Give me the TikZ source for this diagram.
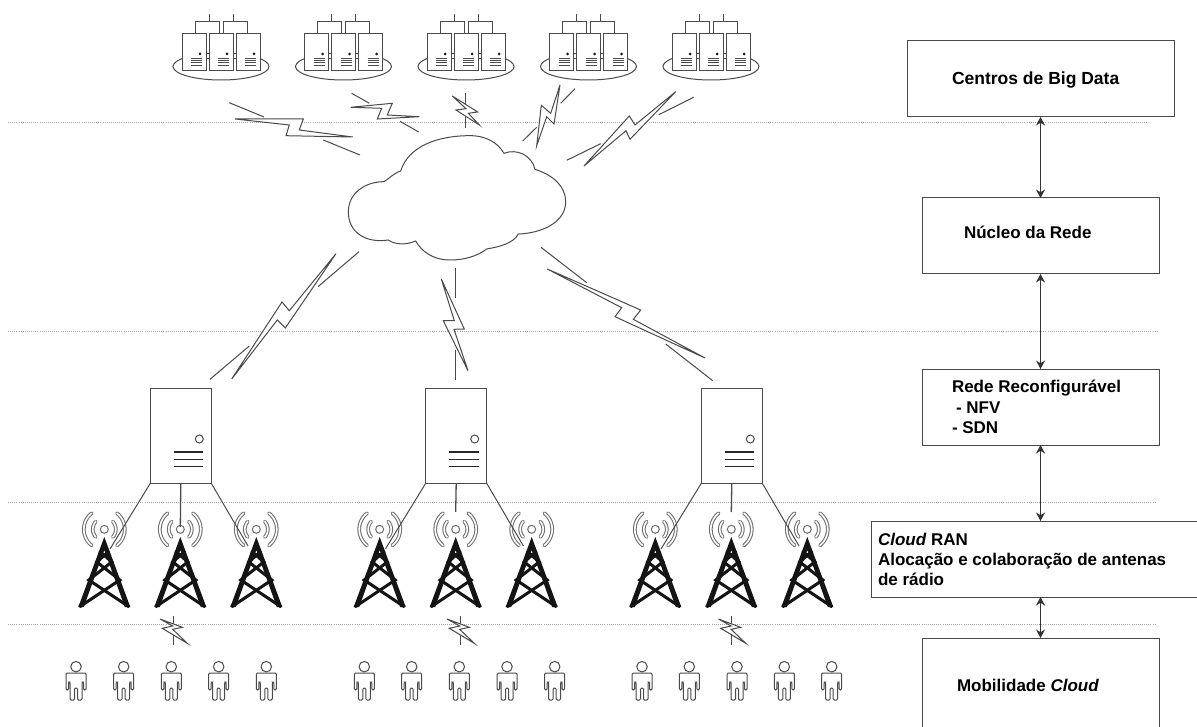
\documentclass[tikz,border=0pt]{standalone}
\usepackage{fontspec}
\setmainfont{Liberation Sans}
\usetikzlibrary{arrows.meta,shapes.geometric}
\definecolor{ln}{HTML}{4A4A4A}
\definecolor{dotc}{HTML}{A8A8A8}
\tikzset{
  x=1pt,y=-1pt,
  layerbox/.style={draw=ln,line width=1pt,fill=white,inner sep=0pt,outer sep=0pt},
  lbl/.style={anchor=base west,inner sep=0pt,outer sep=0pt,font=\fontsize{17}{20}\selectfont\bfseries},
  dual/.style={draw=black!80,line width=1pt,{Stealth[length=8.5pt,width=9pt]}-{Stealth[length=8.5pt,width=9pt]}},
  sepline/.style={draw=dotc,line width=.9pt,dash pattern=on 1pt off 1.1pt},
  thin line/.style={draw=ln,line width=1pt},
  boltshape/.style={draw=ln,line width=1pt,fill=white,line join=miter},
  sideline/.style={draw=ln,line width=1pt},
  rackbox/.style={draw=ln,line width=1pt,fill=white,inner sep=0pt,outer sep=0pt,minimum width=24pt,minimum height=37pt},
  rackdish/.style={ellipse,draw=ln,line width=1pt,fill=white,inner sep=0pt,minimum width=96pt,minimum height=27pt},
  bigsrv/.style={draw=ln,line width=1pt,fill=white,inner sep=0pt,outer sep=0pt,minimum width=61pt,minimum height=95pt},
  ant/.style={circle,draw=ln!80,line width=1pt,fill=white,inner sep=0pt,minimum size=8pt},
  head/.style={circle,draw=ln,line width=1pt,fill=white,inner sep=0pt,minimum size=10.5pt},
}
\newcommand{\wavearc}[5]{% cx cy r ang-centre half-span
  \draw[draw=ln!80,line width=3.7pt,line cap=round] plot[domain={#4-#5}:{#4+#5},samples=13] ({#1+#3*cos(\x)},{#2+#3*sin(\x)});
  \draw[draw=white,line width=1.6pt,line cap=round] plot[domain={#4-#5}:{#4+#5},samples=13] ({#1+#3*cos(\x)},{#2+#3*sin(\x)});
}
\begin{document}
\begin{tikzpicture}
\useasboundingbox (0,0) rectangle (1197,727);
\fill[white] (0,0) rectangle (1197,727);

% separators
\coordinate (s1a) at (8,122);   \coordinate (s1b) at (1147,122);
\coordinate (s2a) at (8,331);   \coordinate (s2b) at (1157,331);
\coordinate (s3a) at (8,502);   \coordinate (s3b) at (1155,502);
\coordinate (s4a) at (8,624);   \coordinate (s4b) at (1155,624);
\foreach \k in {1,2,3,4} \draw[sepline] (s\k a) -- (s\k b);

% right-hand layer boxes
\node[layerbox,minimum width=267pt,minimum height=76pt] (bigdata) at (1040.5,79) {};
\node[layerbox,minimum width=237pt,minimum height=76pt] (nucleo) at (1040.5,236) {};
\node[layerbox,minimum width=237pt,minimum height=76pt] (rede) at (1040.5,407) {};
\node[layerbox,minimum width=339pt,minimum height=76pt] (cran) at (1040.5,559) {};
\node[layerbox,minimum width=237pt,minimum height=102pt] (mob) at (1040.5,689) {};
\draw[dual] (bigdata) -- (nucleo);
\draw[dual] (nucleo) -- (rede);
\draw[dual] (rede) -- (cran);
\draw[dual] (cran) -- (mob);

\node[lbl,font=\fontsize{17.5}{20}\selectfont\bfseries] (t1) at (952,85) {Centros de Big Data};
\node[lbl] (t2) at (964,239) {Núcleo da Rede};
\node[lbl] (t3) at (952,392) {Rede Reconfigurável};
\node[lbl] (t4) at (956,413) {- NFV};
\node[lbl] (t5) at (952,433) {- SDN};
\node[lbl] (t6) at (878,545) {\textit{Cloud} RAN};
\node[lbl] (t7) at (878,565) {Alocação e colaboração de antenas};
\node[lbl] (t8) at (878,585) {de rádio};
\node[lbl] (t9) at (957,691) {Mobilidade \textit{Cloud}};

% top data-centre groups
\foreach \g/\ox in {a/0,b/122.5,c/245,d/367.5,e/490}{
  \begin{scope}[shift={(\ox,0)}]
    \node[rackdish] (dish\g) at (221,66.5) {};
    \node[rackbox] (\g1) at (194,52.5) {};
    \node[rackbox] (\g2) at (221,52.5) {};
    \node[rackbox] (\g3) at (248,52.5) {};
    \coordinate (\g p) at (209,14); \coordinate (\g q) at (233,14);
    \draw[thin line] (195,34) -- (195,22) -- (219,22) -- (219,34);
    \draw[thin line] (223,34) -- (223,22) -- (247,22) -- (247,34);
    \draw[thin line] (\g p) -- (209,22);
    \draw[thin line] (\g q) -- (233,22);
    \draw[thin line] (\g1.east |- 0,59) -- (\g2.west |- 0,59);
    \draw[thin line] (\g2.east |- 0,59) -- (\g3.west |- 0,59);
    \foreach \n/\dx in {1/0,2/27,3/54}{
      \fill[black!90] (200+\dx,54) circle (1.5pt);
      \foreach \yy in {58.3,60.6,62.9,65.2}
        \draw[draw=ln,line width=1pt] (191+\dx,\yy) -- (202+\dx,\yy);
    }
  \end{scope}
}

% cloud
\begin{scope}[shift={(330,130)},x=0.33333pt,y=-0.33333pt]
\draw[draw=ln,line width=1pt,fill=white] (162,155)
 .. controls (175,148) and (190,130) .. (212,123)
 .. controls (235,50) and (320,17) .. (420,17)
 .. controls (470,17) and (505,40) .. (522,70)
 .. controls (560,55) and (605,75) .. (615,118)
 .. controls (670,135) and (707,170) .. (707,215)
 .. controls (707,280) and (630,310) .. (565,312)
 .. controls (550,340) and (510,350) .. (470,357)
 .. controls (440,380) and (400,390) .. (360,390)
 .. controls (310,390) and (275,365) .. (257,333)
 .. controls (230,345) and (195,345) .. (175,330)
 .. controls (110,340) and (55,310) .. (55,245)
 .. controls (55,190) and (105,155) .. (162,155) -- cycle;
\end{scope}

% upper links
\draw[sideline] (229.3,102.7) -- (264,117);
\draw[sideline] (323.3,140) -- (360,155);
\draw[boltshape] (235,119) -- (303.3,119) -- (299.3,130) -- (352.7,137) -- (286,135.7) -- (289.3,125) -- cycle;

\draw[sideline] (351.7,93.3) -- (369.3,103.3);
\draw[sideline] (400,121.3) -- (418.7,132);
\draw[boltshape] (350.7,107.3) -- (392.3,103.3) -- (387.3,115) -- (419.3,116.7) -- (377.3,119) -- (381.7,108.3) -- cycle;

\draw[sideline] (465.7,93.3) -- (465.7,128.3);
\draw[boltshape] (452.3,96) -- (477.7,112) -- (468.3,113.3) -- (479.3,125) -- (456,110) -- (466,108.7) -- cycle;

\draw[sideline] (575,88.7) -- (560.7,103.3);
\draw[sideline] (536.7,127.3) -- (522.7,141);
\draw[boltshape] (560,85) -- (554,124) -- (546.7,116.7) -- (536.7,145.7) -- (541.3,105.3) -- (550.7,113.3) -- cycle;

\draw[sideline] (693.7,97.3) -- (658.7,114.7);
\draw[sideline] (600.7,143.7) -- (566.7,160.3);
\draw[boltshape] (675.7,91.7) -- (635,125) -- (629.3,116) -- (584,166) -- (626,130.7) -- (630,139.3) -- cycle;

% lower links to servers
\draw[sideline] (359,251.7) -- (318,286.7);
\draw[sideline] (249.3,346) -- (210,379.3);
\draw[boltshape] (336,253.7) -- (289.3,310.7) -- (282,302) -- (231.7,379) -- (277.3,320) -- (285.3,328) -- cycle;

\draw[sideline] (455,268.3) -- (455,298.3);
\draw[sideline] (455,350) -- (455,380);
\draw[boltshape] (441.3,279) -- (454.3,320.7) -- (443.3,320.7) -- (468,370.7) -- (454,329.3) -- (464.3,329) -- cycle;

\draw[sideline] (541,247.3) -- (586.7,282.7);
\draw[sideline] (665.7,344) -- (712.7,380.7);
\draw[boltshape] (547.3,269) -- (640.7,310) -- (633.3,319.3) -- (705,358) -- (615,316.7) -- (621.7,307.7) -- cycle;

% access groups
\foreach \g/\ox/\mid in {A/0/527,B/275.4/512,C/551/512}{
  \begin{scope}[shift={(\ox,0)}]
    \node[bigsrv] (srv\g) at (180.8,435.8) {};
    \draw[draw=ln,line width=1pt] (199.3,439) circle (4pt);
    \foreach \yy in {452,459.3,466.7}
      \draw[draw=black!85,line width=1.4pt] (174,\yy) -- (203.3,\yy);
    \foreach \t/\cx in {1/104.3,2/180.3,3/256.3}{
      \wavearc{\cx}{529.3}{20.5}{0}{52}
      \wavearc{\cx}{529.3}{20.5}{180}{52}
      \wavearc{\cx}{529.3}{11.5}{0}{42}
      \wavearc{\cx}{529.3}{11.5}{180}{42}
      \node[ant] (ant\g\t) at (\cx,529.3) {};
      \begin{scope}[shift={(\cx,0)}]
        \fill[black!92] (0,537) -- (-26,607) -- (-20.5,607) -- (0,550) -- (20.5,607) -- (26,607) -- cycle;
        \begin{scope}
          \clip (-26,537) rectangle (26,607);
          \draw[black!92,line width=3pt] (-25,607) -- (15.5,580) -- (-7.5,562) -- (5,551);
          \draw[black!92,line width=3pt] (25,607) -- (-15.5,580) -- (7.5,562) -- (-5,551);
        \end{scope}
      \end{scope}
    }
    \coordinate (lf\g) at (110,549);
    \coordinate (rt\g) at (248,546);
    \coordinate (md\g) at (180.3,\mid);
    \draw[draw=ln,line width=1pt] (srv\g.south west) -- (lf\g);
    \draw[draw=ln,line width=1.3pt] (srv\g.south) -- (md\g);
    \draw[draw=ln,line width=1pt] (srv\g.south east) -- (rt\g);
  \end{scope}
}

% access bolts
\foreach \ox in {0,287,558.4}{
  \begin{scope}[shift={(\ox,0)}]
    \draw[sideline] (173.3,616) -- (173.3,645);
    \draw[boltshape] (160,619) -- (182.3,627.3) -- (172.7,629.3) -- (187.3,643.3) -- (162.3,628.3) -- (172.7,626) -- cycle;
  \end{scope}
}

% users
\foreach \px [count=\i] in {76,123.7,171.3,218.7,266.3,364.3,411.7,459.3,507,554.7,642,689.3,737,784.3,831.7}{
  \begin{scope}[shift={(\px,0)}]
    \node[head] (user\i) at (0,666.7) {};
    \draw[draw=ln,line width=1pt,fill=white,rounded corners=1.2pt]
      (-1.5,688) -- (-1.5,700) -- (-6,700) -- (-6,682) -- (-7.5,682) -- (-7.5,690) -- (-10,690)
      -- (-10,673) -- (10,673) -- (10,690) -- (7.5,690) -- (7.5,682) -- (6,682) -- (6,700)
      -- (1.5,700) -- (1.5,688) -- cycle;
  \end{scope}
}
\end{tikzpicture}
\end{document}
